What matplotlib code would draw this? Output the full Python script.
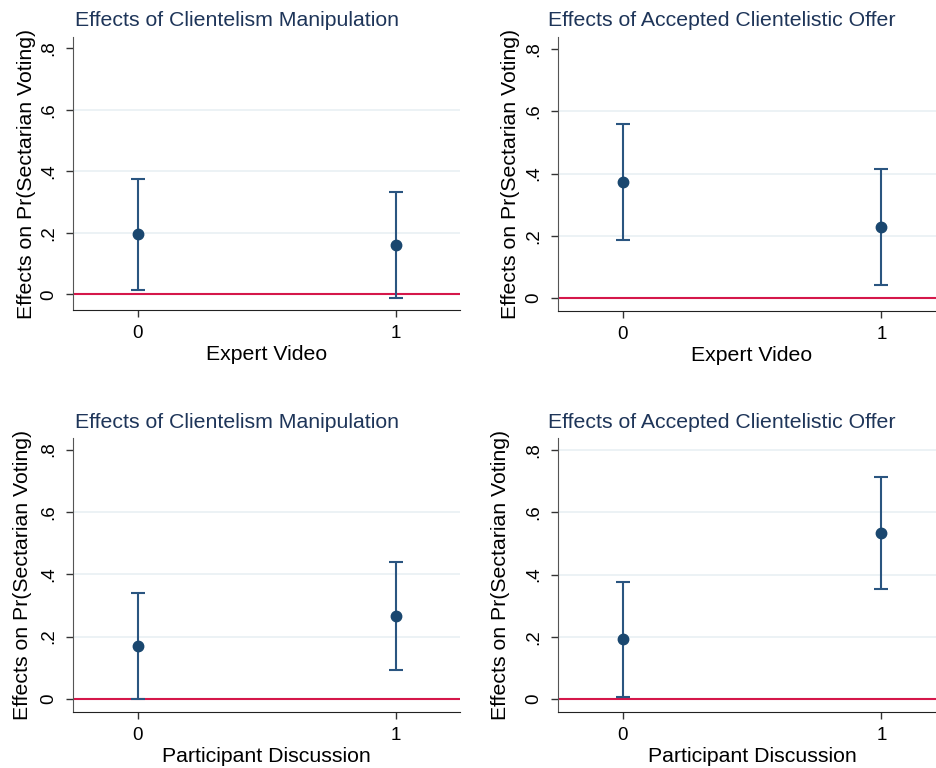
import matplotlib.pyplot as plt

plt.rcParams['font.family'] = ['Liberation Sans', 'DejaVu Sans']

# Point estimates and 95% CIs
titles = ['Effects of Clientelism Manipulation', 'Effects of Accepted Clientelistic Offer',
          'Effects of Clientelism Manipulation', 'Effects of Accepted Clientelistic Offer']
xlabels = ['Expert Video', 'Expert Video', 'Participant Discussion', 'Participant Discussion']
groups = [0, 1]

est_p1 = [0.195, 0.159]
lo_p1 = [0.013, -0.011]
hi_p1 = [0.375, 0.332]

est_p2 = [0.372, 0.228]
lo_p2 = [0.187, 0.041]
hi_p2 = [0.559, 0.413]

est_p3 = [0.170, 0.265]
lo_p3 = [0.001, 0.092]
hi_p3 = [0.340, 0.440]

est_p4 = [0.192, 0.534]
lo_p4 = [0.007, 0.354]
hi_p4 = [0.376, 0.714]

yticks = [0, 0.2, 0.4, 0.6, 0.8]
yticklabels = ['0', '.2', '.4', '.6', '.8']

panels = [(est_p1, lo_p1, hi_p1), (est_p2, lo_p2, hi_p2),
          (est_p3, lo_p3, hi_p3), (est_p4, lo_p4, hi_p4)]

navy = '#1a476f'
title_col = '#1e3559'
red = '#d5174a'
grid_col = '#e9f0f3'

fig = plt.figure(figsize=(9.36, 7.68), dpi=100)
W, H = 936, 768

# axes boxes in pixels: left, top, right, bottom
boxes = [(73, 37, 460, 310), (558, 37, 946, 311),
         (73, 438, 460, 712), (558, 438, 946, 712)]
ylims = [(-0.051, 0.837), (-0.042, 0.839), (-0.042, 0.837), (-0.042, 0.839)]
title_pos = [(237, 21), (722, 21), (237, 422), (722, 422)]
ylab_x = [-0.119, -0.122, -0.131, -0.148]
grid_lines = [[0.2, 0.4, 0.6], [0.2, 0.4, 0.6], [0.2, 0.4, 0.6], [0.2, 0.4, 0.6, 0.8]]

for i, (est, lo, hi) in enumerate(panels):
    l, t, r, b = boxes[i]
    ax = fig.add_axes([l / W, 1 - b / H, (r - l) / W, (b - t) / H])
    for g in grid_lines[i]:
        ax.axhline(g, color=grid_col, lw=1.2, zorder=0)
    ax.axhline(0, color=red, lw=1.5, zorder=1)
    err = [[e - a for e, a in zip(est, lo)], [c - e for e, c in zip(est, hi)]]
    ax.errorbar(groups, est, yerr=err, fmt='o', color=navy, ms=7.5,
                ecolor='#2a5580', elinewidth=1.5, capsize=5, capthick=1.5, zorder=3)
    ax.set_xlim(-0.25, 1.25)
    ax.set_ylim(*ylims[i])
    ax.set_xticks(groups)
    ax.set_xticklabels([str(g) for g in groups])
    ax.set_yticks(yticks)
    ax.set_yticklabels(yticklabels, rotation=90, va='center')
    ax.tick_params(axis='both', labelsize=13.5, length=5, width=1, color='#333333', pad=6)
    for s in ['top', 'right']:
        ax.spines[s].set_visible(False)
    ax.spines['left'].set_color('#555555')
    ax.spines['bottom'].set_color('#222222')
    ax.set_xlabel(xlabels[i], fontsize=15.3, labelpad=2)
    ax.text(ylab_x[i], 0.5, 'Effects on Pr(Sectarian Voting)', transform=ax.transAxes,
            rotation=90, ha='center', va='center', fontsize=15.3)
    fig.text(title_pos[i][0] / W, 1 - title_pos[i][1] / H, titles[i], ha='center', va='center',
             fontsize=15.3, color=title_col)

fig.savefig('out.png', dpi=100)
